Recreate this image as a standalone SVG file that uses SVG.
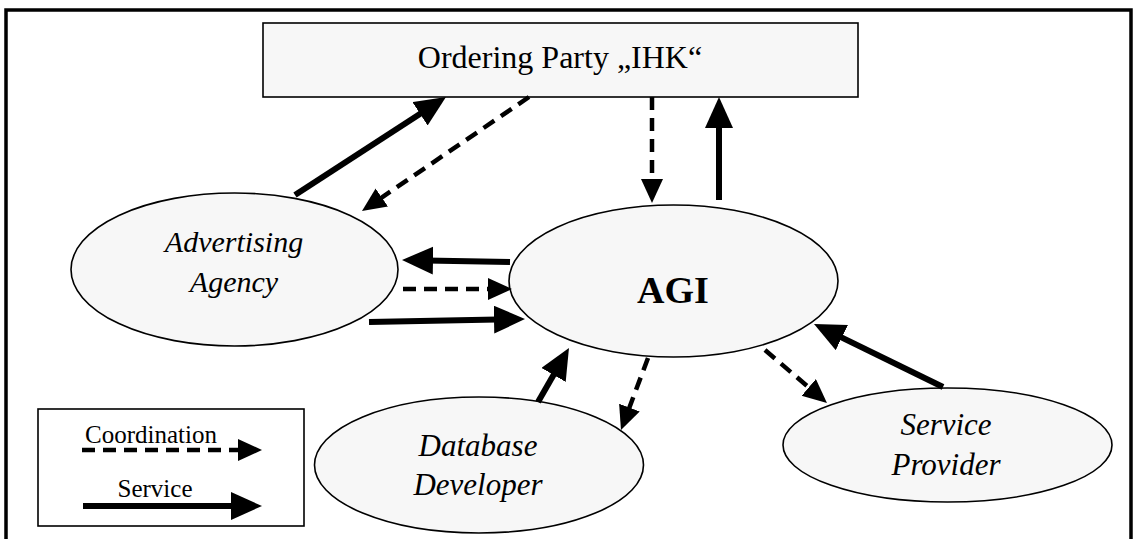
<svg xmlns="http://www.w3.org/2000/svg" width="1137" height="539" viewBox="0 0 1137 539">
<defs>
<marker id="hs" markerUnits="userSpaceOnUse" markerWidth="32" markerHeight="29" refX="21" refY="14" orient="auto">
<path d="M0,0 L31,14 L0,28 z" fill="#000"/>
</marker>
<marker id="hd" markerUnits="userSpaceOnUse" markerWidth="25" markerHeight="23" refX="16" refY="11" orient="auto">
<path d="M0,0 L24,11 L0,22 z" fill="#000"/>
</marker>
<style>
.node{fill:#f7f7f7;stroke:#000;stroke-width:1.6}
.t{fill:#000;text-anchor:middle}
.solid{stroke:#000;stroke-width:6;fill:none;marker-end:url(#hs)}
.dash{stroke:#000;stroke-width:4.5;stroke-dasharray:13 8;fill:none;marker-end:url(#hd)}
</style>
</defs>
<rect width="1137" height="539" fill="#fff"/>
<path d="M6,541 V10 H1131 V541" fill="none" stroke="#000" stroke-width="3.5"/>
<g id="ordering-party">
<rect class="node" x="263" y="23" width="595" height="74"/>
<text class="t" x="560" y="68" font-family="Liberation Serif, Times New Roman, serif" font-size="32">Ordering Party „IHK“</text>
</g>
<g id="advertising-agency">
<ellipse class="node" cx="234.5" cy="269.5" rx="163.5" ry="76.5"/>
<text class="t" x="234" y="252" font-family="Liberation Serif, Times New Roman, serif" font-size="30" font-style="italic">Advertising</text>
<text class="t" x="234" y="292" font-family="Liberation Serif, Times New Roman, serif" font-size="30" font-style="italic">Agency</text>
</g>
<g id="agi">
<ellipse class="node" cx="673.5" cy="281" rx="164.5" ry="76"/>
<text class="t" x="673" y="303" font-family="Liberation Serif, Times New Roman, serif" font-size="38" font-weight="bold">AGI</text>
</g>
<g id="database-developer">
<ellipse class="node" cx="479" cy="465" rx="164.5" ry="68"/>
<text class="t" x="478" y="456" font-family="Liberation Serif, Times New Roman, serif" font-size="31" font-style="italic">Database</text>
<text class="t" x="478" y="495" font-family="Liberation Serif, Times New Roman, serif" font-size="31" font-style="italic">Developer</text>
</g>
<g id="service-provider">
<ellipse class="node" cx="947.5" cy="445" rx="164.5" ry="57"/>
<text class="t" x="946" y="435" font-family="Liberation Serif, Times New Roman, serif" font-size="31" font-style="italic">Service</text>
<text class="t" x="946" y="475" font-family="Liberation Serif, Times New Roman, serif" font-size="31" font-style="italic">Provider</text>
</g>
<g id="legend">
<rect x="38" y="409" width="266" height="117" fill="#fff" stroke="#000" stroke-width="1.6"/>
<text class="t" x="151" y="443" font-family="Liberation Serif, Times New Roman, serif" font-size="25">Coordination</text>
<line class="dash" x1="82" y1="450" x2="254" y2="450"/>
<text class="t" x="155" y="497" font-family="Liberation Serif, Times New Roman, serif" font-size="25">Service</text>
<line class="solid" x1="83" y1="506" x2="252" y2="506"/>
</g>
<g id="connectors">
<line class="solid" x1="295" y1="195" x2="437.6" y2="102.4"/>
<line class="dash" x1="529" y1="97" x2="368.6" y2="206.5"/>
<line class="dash" x1="652" y1="97" x2="652" y2="195"/>
<line class="solid" x1="719" y1="200" x2="719" y2="107"/>
<line class="solid" x1="510" y1="262" x2="412" y2="260.2"/>
<line class="dash" x1="403" y1="289" x2="504" y2="289"/>
<line class="solid" x1="369" y1="322" x2="515" y2="319.2"/>
<line class="solid" x1="538" y1="402" x2="564" y2="356.7"/>
<line class="dash" x1="648" y1="358" x2="623.8" y2="422.5"/>
<line class="dash" x1="765" y1="350" x2="820.9" y2="397.8"/>
<line class="solid" x1="943" y1="387" x2="823" y2="328.4"/>
</g>
</svg>
